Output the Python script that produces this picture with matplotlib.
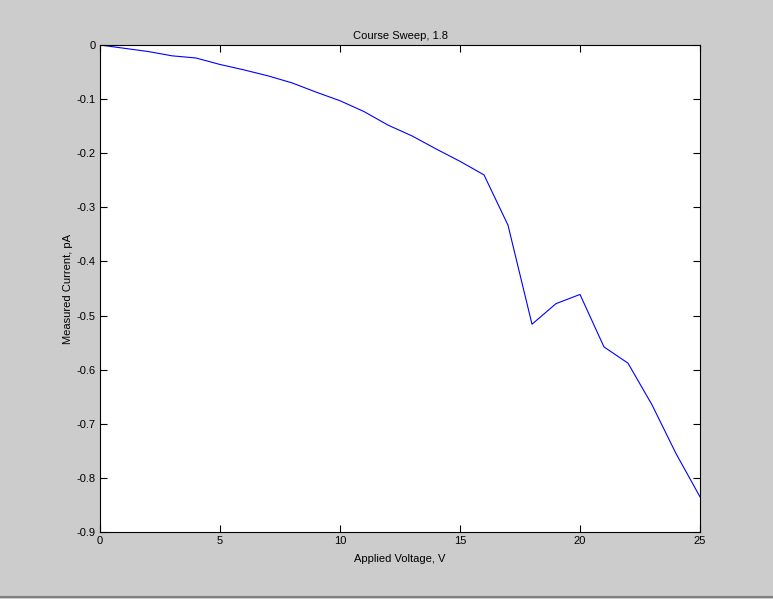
import matplotlib
matplotlib.use("Agg")
import matplotlib.pyplot as plt

# applied voltage (V) and measured current (pA)
voltage = list(range(0, 26))
current = [0, -0.006, -0.012, -0.020, -0.024, -0.036, -0.046, -0.057, -0.070,
           -0.087, -0.103, -0.123, -0.148, -0.168, -0.192, -0.215, -0.240,
           -0.333, -0.516, -0.478, -0.461, -0.558, -0.588, -0.665, -0.755,
           -0.835]

x_ticks = [0, 5, 10, 15, 20, 25]
y_ticks = [0, -0.1, -0.2, -0.3, -0.4, -0.5, -0.6, -0.7, -0.8, -0.9]
y_labels = ['0', '-0.1', '-0.2', '-0.3', '-0.4', '-0.5', '-0.6', '-0.7', '-0.8', '-0.9']

plt.rcParams['font.family'] = ['Liberation Sans', 'DejaVu Sans']
plt.rcParams['axes.unicode_minus'] = False

fig = plt.figure(figsize=(7.73, 5.99), dpi=100, facecolor='#cccccc')
ax = fig.add_axes([100 / 773, 1 - 532 / 599, 600 / 773, 487 / 599])
ax.set_facecolor('white')

ax.plot(voltage, current, color='#0000ff', linewidth=0.8)

ax.set_xlim(0, 25)
ax.set_ylim(-0.9, 0)
ax.set_xticks(x_ticks)
ax.set_xticklabels([str(t) for t in x_ticks])
ax.set_yticks(y_ticks)
ax.set_yticklabels(y_labels)
ax.tick_params(direction='in', length=5, width=0.8, labelsize=8,
               top=True, right=True, pad=3, colors='black')
for s in ax.spines.values():
    s.set_linewidth(0.8)

ax.set_title('Course Sweep, 1.8', fontsize=8, pad=4)
ax.set_xlabel('Applied Voltage, V', fontsize=8, labelpad=6)
ax.set_ylabel('Measured Current, pA', fontsize=8, labelpad=3)

# window border at the bottom
fig.add_artist(plt.Line2D([0, 1], [0.003, 0.003], color='#808080', linewidth=1.5,
                          transform=fig.transFigure))

fig.savefig('out.png', dpi=100, facecolor=fig.get_facecolor())
